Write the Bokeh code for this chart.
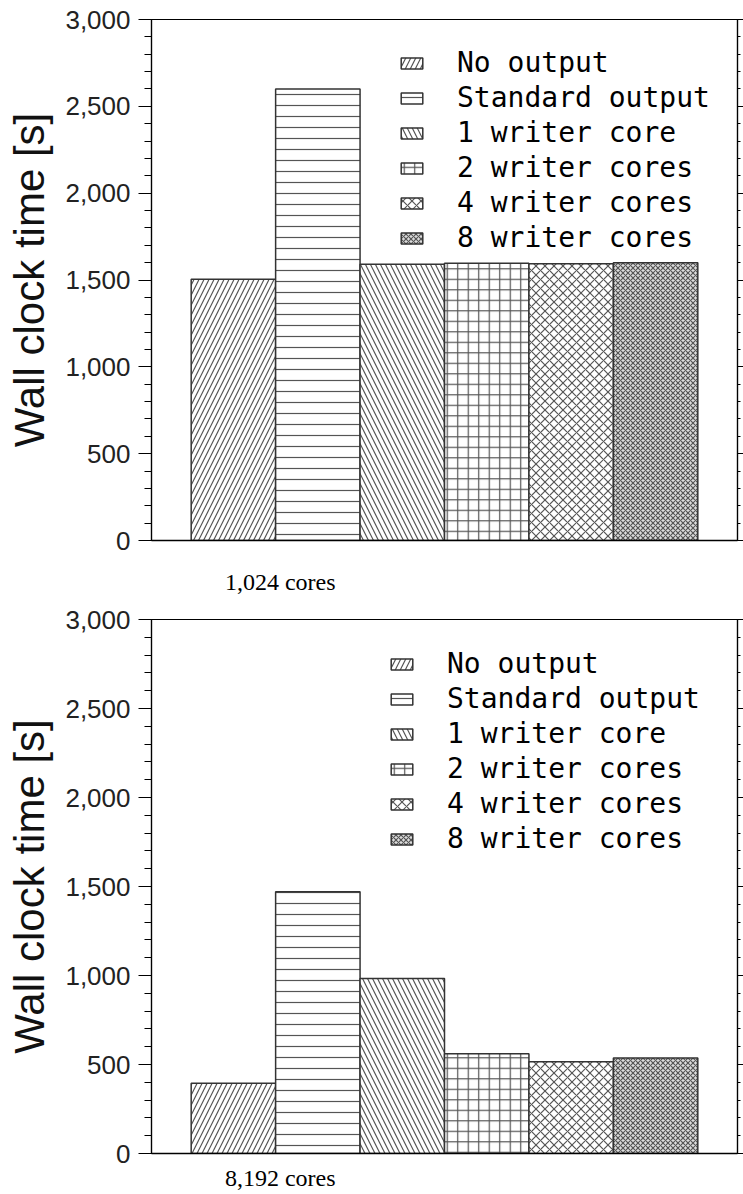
from bokeh.plotting import figure
from bokeh.layouts import column
from bokeh.models import (Range1d, LinearAxis, SingleIntervalTicker,
                          NumeralTickFormatter, FixedTicker, CustomJSTickFormatter)
from bokeh.embed import file_html
from bokeh.resources import INLINE

# Wall clock time [s] per output configuration
series = ["No output", "Standard output", "1 writer core",
          "2 writer cores", "4 writer cores", "8 writer cores"]
time_1024 = [1505, 2600, 1590, 1597, 1594, 1600]
time_8192 = [395, 1470, 983, 560, 515, 537]
groups = ["1,024 cores", "8,192 cores"]

# fill styles, one per configuration
styles = [
    dict(hatch_pattern="/", hatch_scale=10, fill_color="white"),
    dict(hatch_pattern="-", hatch_scale=11, fill_color="white"),
    dict(hatch_pattern="\\", hatch_scale=10, fill_color="white"),
    dict(hatch_pattern="+", hatch_scale=10.5, fill_color="white"),
    dict(hatch_pattern="x", hatch_scale=9, fill_color="white"),
    dict(hatch_pattern="x", hatch_scale=5, fill_color="#dcdcdc"),
]

GROUP_X = 0.555


def make_panel(values, group_label, height, frame_h, legend_xy, label_gap):
    p = figure(width=743, height=height, output_backend="svg",
               toolbar_location=None,
               x_range=Range1d(-0.97, 5.97), y_range=Range1d(0, 3000),
               min_border_left=151, min_border_right=5,
               min_border_top=19, min_border_bottom=height - 19 - frame_h)
    p.outline_line_color = "black"
    p.outline_line_width = 1.2
    p.xgrid.visible = False
    p.ygrid.visible = False
    p.background_fill_color = "white"

    for i, (name, v) in enumerate(zip(series, values)):
        p.vbar(x=[i], top=[v], bottom=0, width=1,
               line_color="#333333", line_width=1.5,
               hatch_color="#555555", hatch_weight=1.2,
               legend_label=name, **styles[i])

    ticker = SingleIntervalTicker(interval=500, num_minor_ticks=5)
    ya = p.yaxis[0]
    ya.ticker = ticker
    ya.formatter = NumeralTickFormatter(format="0,0")
    ya.major_tick_out = 13
    ya.minor_tick_out = 7
    ya.major_tick_in = 0
    ya.minor_tick_in = 0
    ya.major_label_standoff = 8
    ya.major_label_text_font = "Liberation Sans"
    ya.major_label_text_font_size = "26px"
    ya.major_label_text_color = "#222222"
    ya.axis_line_color = "black"
    ya.axis_line_width = 1.2
    ya.major_tick_line_width = 1.2
    ya.minor_tick_line_width = 1.2
    ya.axis_label = "Wall clock time [s]"
    ya.axis_label_text_font = "Liberation Sans"
    ya.axis_label_text_font_size = "42px"
    ya.axis_label_text_font_style = "normal"
    ya.axis_label_text_color = "#111111"
    ya.axis_label_standoff = 9

    # plain right-hand axis carrying only tick marks
    ra = LinearAxis(ticker=ticker,
                    formatter=CustomJSTickFormatter(code="return ''"),
                    major_label_standoff=0, major_tick_out=6, minor_tick_out=3,
                    major_tick_in=0, minor_tick_in=0,
                    axis_line_color="black", axis_line_width=1.2)
    p.add_layout(ra, "right")

    xa = p.xaxis[0]
    xa.ticker = FixedTicker(ticks=[GROUP_X])
    xa.major_label_overrides = {GROUP_X: group_label}
    xa.major_tick_out = 0
    xa.major_tick_in = 0
    xa.minor_tick_out = 0
    xa.major_label_standoff = label_gap
    xa.major_label_text_font = "Liberation Serif"
    xa.major_label_text_font_size = "24px"
    xa.major_label_text_color = "black"
    xa.axis_line_color = "black"
    xa.axis_line_width = 1.5

    lg = p.legend[0]
    lg.location = legend_xy
    lg.background_fill_alpha = 0
    lg.border_line_alpha = 0
    lg.padding = 0
    lg.margin = 0
    lg.spacing = 0
    lg.glyph_width = 27
    lg.glyph_height = 14
    lg.label_height = 35
    lg.label_standoff = 32
    lg.label_text_font = "DejaVu Sans Mono"
    lg.label_text_font_size = "28px"
    lg.label_text_color = "black"
    return p


p1 = make_panel(time_1024, groups[0], 600, 521, (247, 285), 28)
p2 = make_panel(time_8192, groups[1], 594, 534, (237, 297), 11)

layout = column(p1, p2, spacing=0)
open("out.html", "w").write(file_html(layout, INLINE))
